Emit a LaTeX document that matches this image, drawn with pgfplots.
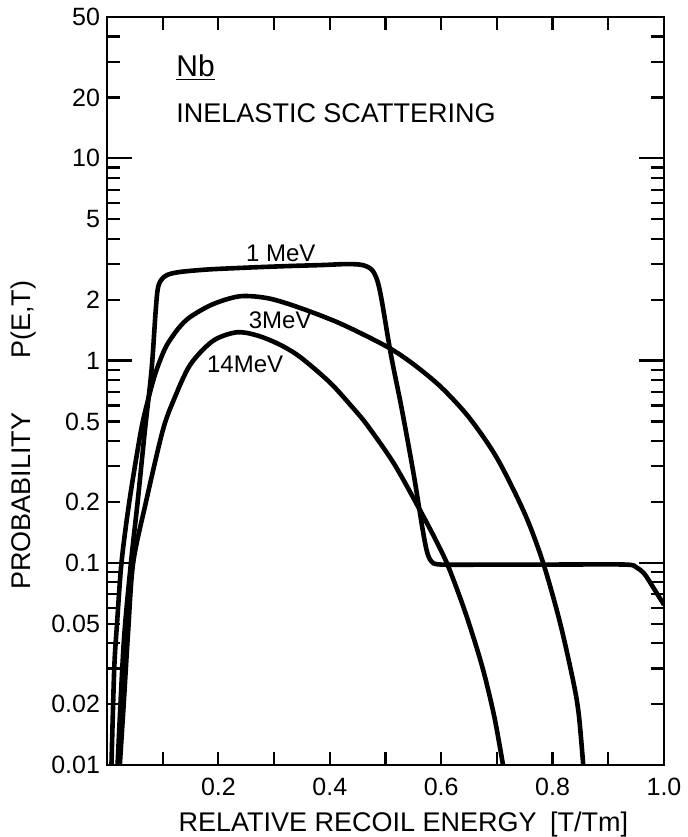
\documentclass[border=0pt]{standalone}
\usepackage{fontspec}
\setmainfont{Liberation Sans}
\usepackage{pgfplots}
\pgfplotsset{compat=1.18}
\begin{document}
\begin{tikzpicture}[curve/.style={black, line width=2.3pt, no markers, smooth, tension=0.5}]
\path[use as bounding box] (-53.5pt,-36pt) rectangle (290.5pt,382.5pt);
\begin{axis}[
  at={(0,0)}, anchor=south west,
  scale only axis,
  width=278.5pt, height=374pt,
  xmin=0, xmax=1,
  ymode=log, ymin=0.01, ymax=50,
  axis line style={line width=1.4pt},
  tick style={line width=1.1pt, black},
  tick pos=both,
  tick align=inside,
  xtick={0.2,0.4,0.6,0.8,1.0},
  xticklabels={0.2,0.4,0.6,0.8,1.0},
  minor xtick={0.1,0.3,0.5,0.7,0.9},
  ytick={0.02,0.05,0.2,0.5,2,5,20,50},
  yticklabels={0.02,0.05,0.2,0.5,2,5,20,50},
  minor ytick={0.03,0.04,0.06,0.07,0.08,0.09,0.3,0.4,0.6,0.7,0.8,0.9,3,4,6,7,8,9,30,40},
  extra y ticks={0.01,0.1,1,10},
  extra y tick labels={0.01,0.1,1,10},
  extra y tick style={major tick length=12.5pt},
  major tick length=6.5pt,
  minor tick length=6.5pt,
  /pgf/number format/assume math mode=true,
  ticklabel style={font=\fontsize{12.5}{14}\selectfont},
  xticklabel style={yshift=-3pt},
  xlabel={RELATIVE RECOIL ENERGY\enspace[T/Tm]},
  ylabel={PROBABILITY\qquad P(E,T)},
  label style={font=\fontsize{13.5}{15}\selectfont},
  xlabel style={at={(axis description cs:0.532,-0.079)}, anchor=center},
  ylabel style={at={(axis description cs:-0.149,0.441)}, anchor=center},
]
% 1 MeV
\addplot[curve] coordinates {
(0.019,0.01) (0.03,0.04) (0.043,0.1) (0.055,0.2) (0.068,0.45) (0.08,0.9) (0.087,1.7) (0.091,2.25)
(0.097,2.5) (0.108,2.65) (0.13,2.74) (0.18,2.82) (0.25,2.88) (0.32,2.93) (0.39,2.97) (0.43,3.0)
(0.458,2.97) (0.475,2.82) (0.485,2.5) (0.493,2.0) (0.51,1.06) (0.529,0.58) (0.55,0.28) (0.566,0.15)
(0.574,0.115) (0.582,0.102) (0.6,0.098) (0.7,0.098) (0.8,0.098) (0.93,0.098) (0.95,0.095)
(0.965,0.088) (0.98,0.076) (1.0,0.062)
};
% 3 MeV
\addplot[curve] coordinates {
(0.008,0.01) (0.013,0.03) (0.018,0.05) (0.026,0.1) (0.04,0.2) (0.061,0.45) (0.075,0.66) (0.086,0.85)
(0.097,1.03) (0.108,1.2) (0.128,1.44) (0.149,1.64) (0.19,1.9) (0.239,2.08) (0.29,2.03) (0.347,1.82) (0.42,1.52)
(0.503,1.17) (0.55,0.96) (0.6,0.738) (0.65,0.523) (0.7,0.33) (0.75,0.175) (0.783,0.1)
(0.813,0.051) (0.837,0.026) (0.847,0.0178) (0.855,0.01)
};
% 14 MeV
\addplot[curve] coordinates {
(0.023,0.01) (0.03,0.02) (0.038,0.046) (0.047,0.1) (0.07,0.2) (0.10,0.45) (0.12,0.64)
(0.149,0.95) (0.19,1.25) (0.233,1.38) (0.27,1.33) (0.31,1.2) (0.347,1.04) (0.40,0.78) (0.44,0.59) (0.467,0.48)
(0.515,0.31) (0.562,0.182) (0.59,0.13) (0.61,0.1) (0.63,0.072) (0.646,0.054) (0.665,0.037) (0.679,0.027) (0.696,0.017) (0.711,0.01)
};
\node[anchor=west, inner sep=0pt, font=\fontsize{15}{16}\selectfont] at (axis cs:0.124,28) {\underline{Nb}};
\node[anchor=west, inner sep=0pt, font=\fontsize{13.5}{15}\selectfont] at (axis cs:0.124,16.8) {INELASTIC SCATTERING};
\node[font=\fontsize{12}{13}\selectfont] at (axis cs:0.312,3.40) {1 MeV};
\node[font=\fontsize{12}{13}\selectfont] at (axis cs:0.311,1.585) {3MeV};
\node[font=\fontsize{12}{13}\selectfont] at (axis cs:0.248,0.96) {14MeV};
\end{axis}
\end{tikzpicture}
\end{document}
